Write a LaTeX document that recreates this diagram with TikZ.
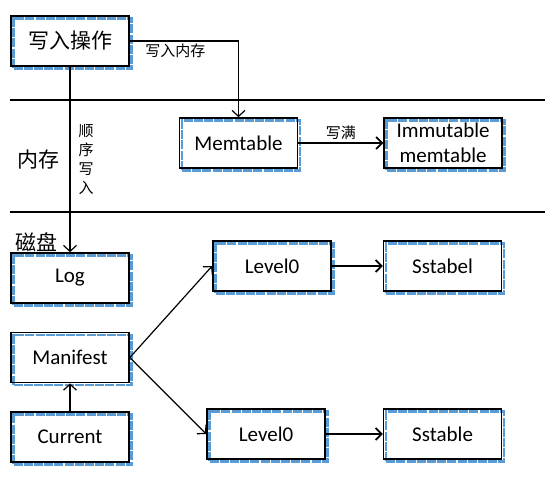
\documentclass[tikz,border=0pt]{standalone}
\usepackage{fontspec}
\setmainfont{Carlito}
\newfontfamily\cjk{Noto Sans CJK SC}
\usepackage{tikz}
\usetikzlibrary{positioning,shadows,arrows.meta}
\definecolor{edgeblue}{RGB}{91,155,213}

\tikzset{
  box/.style={draw, line width=1.6pt, minimum width=118pt, minimum height=50pt, inner sep=2pt,
    align=center, font=\fontsize{21}{25}\selectfont,
    general shadow={shadow xshift=2.5pt, shadow yshift=-2.5pt, draw=edgeblue, line width=2.6pt, dash pattern=on 9pt off 1.2pt}},
  cnbox/.style={box, font=\cjk\fontsize{21}{25}\selectfont},
  cn/.style={font=\cjk\fontsize{15}{19}\selectfont, inner sep=2pt},
  big/.style={font=\cjk\fontsize{21}{25}\selectfont, inner sep=0pt},
  sep/.style={line width=2.4pt},
  thinarr/.style={line width=1.2pt, -{Straight Barb[length=6pt, width=13pt]}},
  thickarr/.style={line width=1.8pt, -{Straight Barb[length=6pt, width=12pt]}}
}

\begin{document}
\begin{tikzpicture}[x=1pt, y=1pt]
      \useasboundingbox (0,0) rectangle (554,477);
      % layers
      \draw[sep] (10,377) -- (545,377);
      \draw[sep] (10,265) -- (545,265);
      \node[big] (ram) at (38,317) {内存};
      \node[big] (disk) at (37,235) {磁盘};

      \node [cnbox] (op) at (70,436) {写入操作};
      \node [box] (mem) at (238.5,334) {Memtable};
      \node [box] (imm) [right=85pt of mem] {Immutable\\memtable};
      \node [box] (log) at (70,199) {Log};
      \node [box] (man) [below=28pt of log] {Manifest};
      \node [box] (cur) [below=28pt of man] {Current};
      \node [box] (lvA) at (272,211) {Level0};
      \node [box] (ssA) [right=51pt of lvA] {Sstabel};
      \node [box] (lvB) at (266,43) {Level0};
      \node [box] (ssB) [right=57pt of lvB] {Sstable};

      \draw[thinarr] (op.east) -| node[cn, pos=0.21, below] {写入内存} (mem.north);
      \draw[thinarr] (op.south) -- node[cn, midway, right=6pt, align=center] {顺\\序\\写\\入} (log.north);
      \draw[thickarr] (mem) -- node[cn, above] {写满} (imm);
      \draw[thinarr] (cur) -- (man);
      \draw[thinarr] (man.east) -- (lvA.west);
      \draw[thinarr] (man.east) -- (lvB.west);
      \draw[thickarr] (lvA) -- (ssA);
      \draw[thickarr] (lvB) -- (ssB);
\end{tikzpicture}
\end{document}
